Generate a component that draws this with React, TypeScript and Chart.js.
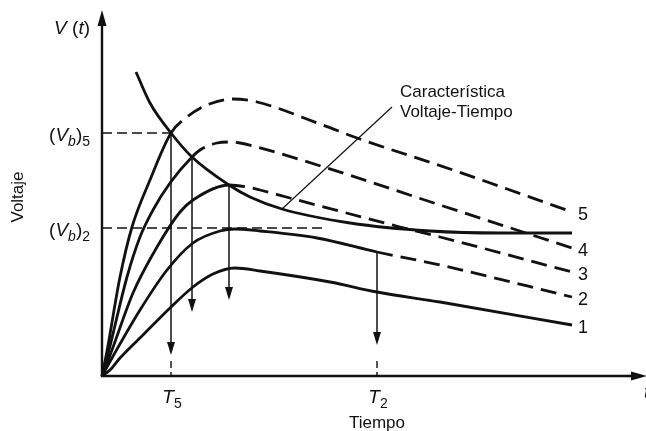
import { useEffect, useRef } from 'react';
import { Chart, registerables } from 'chart.js';

Chart.register(...registerables);

// Voltage waveforms V(t) for five impulse levels (time and voltage in arbitrary units)
const curve1T = [0, 0.8, 1.8, 4.3, 6.8, 9.1, 11.1, 13.3, 15.8, 22.8, 27.5, 33.8, 47.0];
const curve1V = [0, 0.6, 1.8, 4.3, 6.8, 8.9, 10.2, 10.8, 10.5, 9.4, 8.4, 7.4, 5.1];

const curve2T = [0, 1.0, 3.8, 6.5, 9.1, 11.8, 13.3, 15.8, 21.5, 27.5, 33.8, 47.0];
const curve2V = [0, 1.8, 6.6, 10.6, 13.3, 14.5, 14.7, 14.5, 13.8, 12.4, 11.1, 7.9];

const curve3T = [0, 1.0, 3.1, 5.5, 7.8, 9.1, 12.7, 14.5, 15.8, 18.8, 29.8, 33.8, 47.0];
const curve3V = [0, 2.6, 8.3, 12.9, 16.4, 17.6, 19.1, 18.9, 18.6, 17.8, 14.9, 13.9, 10.4];

const curve4T = [0, 0.7, 2.5, 3.8, 5.1, 6.8, 9.0, 9.8, 11.5, 12.8, 13.8, 15.5, 22.5, 33.8, 47.0];
const curve4V = [0, 2.6, 9.9, 13.9, 16.6, 19.3, 21.9, 22.6, 23.3, 23.4, 23.3, 22.9, 20.8, 17.1, 12.8];

const curve5T = [0, 0.5, 1.8, 3.0, 4.8, 6.9, 8.5, 10.5, 13.1, 15.5, 21.8, 25.5, 34.8, 47.0];
const curve5V = [0, 2.5, 9.9, 14.9, 19.6, 24.3, 25.9, 27.1, 27.7, 27.4, 25.2, 23.8, 20.7, 16.4];

// Voltage-time characteristic
const charT = [3.4, 4.8, 6.9, 9.0, 12.7, 14.8, 18.0, 24.8, 32.8, 39.8, 47.0];
const charV = [30.4, 27.3, 24.3, 21.9, 19.1, 17.9, 16.7, 15.3, 14.5, 14.3, 14.3];

// Time at which each waveform turns dashed (breakdown instant); curve 1 never breaks down
const breakdownT = [Infinity, 27.5, 12.7, 9.0, 6.9];
const curveLabels = ['1', '2', '3', '4', '5'];

// Arrows dropping from breakdown points to the time axis
const arrowT = [6.9, 9.0, 12.7, 27.5];
const arrowFromV = [24.3, 21.9, 19.1, 12.4];
const arrowToV = [2.1, 6.4, 7.6, 3.1];

// Breakdown voltage reference levels
const vb5 = 24.3;
const vb5EndT = 6.9;
const vb2 = 14.8;
const vb2EndT = 22.0;

// Time ticks
const tickT = [6.9, 27.5];
const tickSub = ['5', '2'];

// Leader line for the characteristic label
const leaderT = [18.0, 29.0];
const leaderV = [16.7, 26.9];
const charLabel = ['Característica', 'Voltaje-Tiempo'];

const FONT = '"Liberation Sans", Arial, Helvetica, sans-serif';
const INK = '#111';

type Part = { t: string; it?: boolean; sub?: boolean };

function drawRich(
  ctx: CanvasRenderingContext2D,
  parts: Part[],
  x: number,
  y: number,
  size: number,
  align: 'left' | 'center' | 'right'
) {
  const fonts = parts.map(
    (p) => `${p.it ? 'italic ' : ''}${p.sub ? Math.round(size * 0.75) : size}px ${FONT}`
  );
  let w = 0;
  parts.forEach((p, i) => {
    ctx.font = fonts[i];
    w += ctx.measureText(p.t).width;
  });
  let cx = align === 'left' ? x : align === 'center' ? x - w / 2 : x - w;
  ctx.textAlign = 'left';
  ctx.textBaseline = 'alphabetic';
  parts.forEach((p, i) => {
    ctx.font = fonts[i];
    ctx.fillText(p.t, cx, y + (p.sub ? size * 0.28 : 0));
    cx += ctx.measureText(p.t).width;
  });
}

function arrowHead(ctx: CanvasRenderingContext2D, tx: number, ty: number, dir: 'up' | 'down' | 'right', len: number, half: number) {
  ctx.beginPath();
  if (dir === 'down') {
    ctx.moveTo(tx, ty);
    ctx.lineTo(tx - half, ty - len);
    ctx.lineTo(tx + half, ty - len);
  } else if (dir === 'up') {
    ctx.moveTo(tx, ty);
    ctx.lineTo(tx - half, ty + len);
    ctx.lineTo(tx + half, ty + len);
  } else {
    ctx.moveTo(tx, ty);
    ctx.lineTo(tx - len, ty - half);
    ctx.lineTo(tx - len, ty + half);
  }
  ctx.closePath();
  ctx.fill();
}

const diagramPlugin = {
  id: 'diagram',
  afterDatasetsDraw(chart: any) {
    const { ctx, chartArea } = chart;
    const xs = chart.scales.x;
    const ys = chart.scales.y;
    const X = (v: number) => xs.getPixelForValue(v);
    const Y = (v: number) => ys.getPixelForValue(v);
    const x0 = X(0);
    const y0 = Y(0);

    ctx.save();
    ctx.strokeStyle = INK;
    ctx.fillStyle = INK;
    ctx.lineCap = 'butt';

    // Axes with arrowheads
    ctx.lineWidth = 2.4;
    ctx.beginPath();
    ctx.moveTo(x0, y0 + 1);
    ctx.lineTo(x0, chartArea.top + 4);
    ctx.moveTo(x0 - 1, y0);
    ctx.lineTo(chartArea.right - 6, y0);
    ctx.stroke();
    arrowHead(ctx, x0, chartArea.top - 6, 'up', 16, 4.5);
    arrowHead(ctx, chartArea.right + 5, y0, 'right', 16, 4.5);

    // Reference levels (Vb)5 and (Vb)2
    ctx.lineWidth = 1.4;
    ctx.setLineDash([10, 5]);
    ctx.beginPath();
    ctx.moveTo(x0, Y(vb5));
    ctx.lineTo(X(vb5EndT), Y(vb5));
    ctx.moveTo(x0, Y(vb2));
    ctx.lineTo(X(vb2EndT), Y(vb2));
    ctx.stroke();

    // Dashed tick marks at T5 and T2
    ctx.setLineDash([7, 4]);
    ctx.beginPath();
    tickT.forEach((t) => {
      ctx.moveTo(X(t), y0 - 15);
      ctx.lineTo(X(t), y0);
    });
    ctx.stroke();
    ctx.setLineDash([]);

    // Drop arrows from breakdown points
    ctx.lineWidth = 1.5;
    arrowT.forEach((t, i) => {
      const px = X(t);
      ctx.beginPath();
      ctx.moveTo(px, Y(arrowFromV[i]));
      ctx.lineTo(px, Y(arrowToV[i]) - 10);
      ctx.stroke();
      arrowHead(ctx, px, Y(arrowToV[i]), 'down', 13, 4);
    });

    // Leader line to the characteristic
    ctx.lineWidth = 1.2;
    ctx.beginPath();
    ctx.moveTo(X(leaderT[0]), Y(leaderV[0]));
    ctx.lineTo(X(leaderT[1]), Y(leaderV[1]));
    ctx.stroke();

    // Texts
    ctx.fillStyle = INK;
    ctx.font = `17px ${FONT}`;
    ctx.textAlign = 'left';
    ctx.textBaseline = 'middle';
    ctx.fillText(charLabel[0], X(leaderT[1]) + 8, Y(leaderV[1]) - 15);
    ctx.fillText(charLabel[1], X(leaderT[1]) + 8, Y(leaderV[1]) + 5);

    // Curve numbers at the end of each waveform
    ctx.font = `18px ${FONT}`;
    const ends = [
      [curve1T, curve1V],
      [curve2T, curve2V],
      [curve3T, curve3V],
      [curve4T, curve4V],
      [curve5T, curve5V],
    ];
    ends.forEach(([T, V], i) => {
      const n = T.length - 1;
      ctx.fillText(curveLabels[i], X(T[n]) + 6, Y(V[n]) + 3);
    });

    // Axis titles
    drawRich(ctx, [{ t: 'V', it: true }, { t: ' (' }, { t: 't', it: true }, { t: ')' }], x0 - 12, 34, 19, 'right');
    drawRich(ctx, [{ t: '(' }, { t: 'V', it: true }, { t: 'b', it: true, sub: true }, { t: ')' }, { t: '5', sub: true }], x0 - 12, Y(vb5) + 8, 19, 'right');
    drawRich(ctx, [{ t: '(' }, { t: 'V', it: true }, { t: 'b', it: true, sub: true }, { t: ')' }, { t: '2', sub: true }], x0 - 12, Y(vb2) + 8, 19, 'right');
    tickT.forEach((t, i) => {
      drawRich(ctx, [{ t: 'T', it: true }, { t: tickSub[i], sub: true }], X(t) + 1, y0 + 27, 19, 'center');
    });
    drawRich(ctx, [{ t: 't', it: true }], chartArea.right + 2, y0 + 22, 19, 'left');

    ctx.font = `17px ${FONT}`;
    ctx.textAlign = 'center';
    ctx.textBaseline = 'middle';
    ctx.fillText('Tiempo', X(tickT[1]), y0 + 47);

    ctx.save();
    ctx.translate(18, 197);
    ctx.rotate(-Math.PI / 2);
    ctx.fillText('Voltaje', 0, 0);
    ctx.restore();

    ctx.restore();
  },
};

function series(T: number[], V: number[]) {
  return T.map((t, i) => ({ x: t, y: V[i] }));
}

export default function App() {
  const canvasRef = useRef<HTMLCanvasElement | null>(null);

  useEffect(() => {
    document.body.style.margin = '0';
    const canvas = canvasRef.current;
    if (!canvas) return;

    const curves = [
      [curve1T, curve1V],
      [curve2T, curve2V],
      [curve3T, curve3V],
      [curve4T, curve4V],
      [curve5T, curve5V],
    ];

    const waveDatasets = curves.map(([T, V], i) => ({
      label: curveLabels[i],
      data: series(T, V),
      borderColor: INK,
      borderWidth: 2.8,
      pointRadius: 0,
      fill: false,
      cubicInterpolationMode: 'monotone' as const,
      borderCapStyle: 'butt' as const,
      clip: false as const,
      segment: {
        borderDash: (c: any) => (c.p0.parsed.x >= breakdownT[i] - 1e-6 ? [16, 8] : undefined),
      },
    }));

    const chart = new Chart(canvas, {
      type: 'line',
      data: {
        datasets: [
          ...waveDatasets,
          {
            label: 'Característica Voltaje-Tiempo',
            data: series(charT, charV),
            borderColor: INK,
            borderWidth: 2.8,
            pointRadius: 0,
            fill: false,
            cubicInterpolationMode: 'monotone',
            clip: false,
          } as any,
        ],
      },
      options: {
        animation: false,
        responsive: false,
        devicePixelRatio: 1,
        layout: { padding: { left: 102, right: 4, top: 16, bottom: 55 } },
        plugins: { legend: { display: false }, tooltip: { enabled: false }, title: { display: false } },
        scales: {
          x: { type: 'linear', min: 0, max: 54, display: false },
          y: { type: 'linear', min: 0, max: 36, display: false },
        },
        events: [],
      },
      plugins: [diagramPlugin],
    });

    return () => chart.destroy();
  }, []);

  return (
    <div style={{ position: 'absolute', left: 0, top: 0, width: 646, height: 431, background: '#fff' }}>
      <canvas ref={canvasRef} width={646} height={431} />
    </div>
  );
}
